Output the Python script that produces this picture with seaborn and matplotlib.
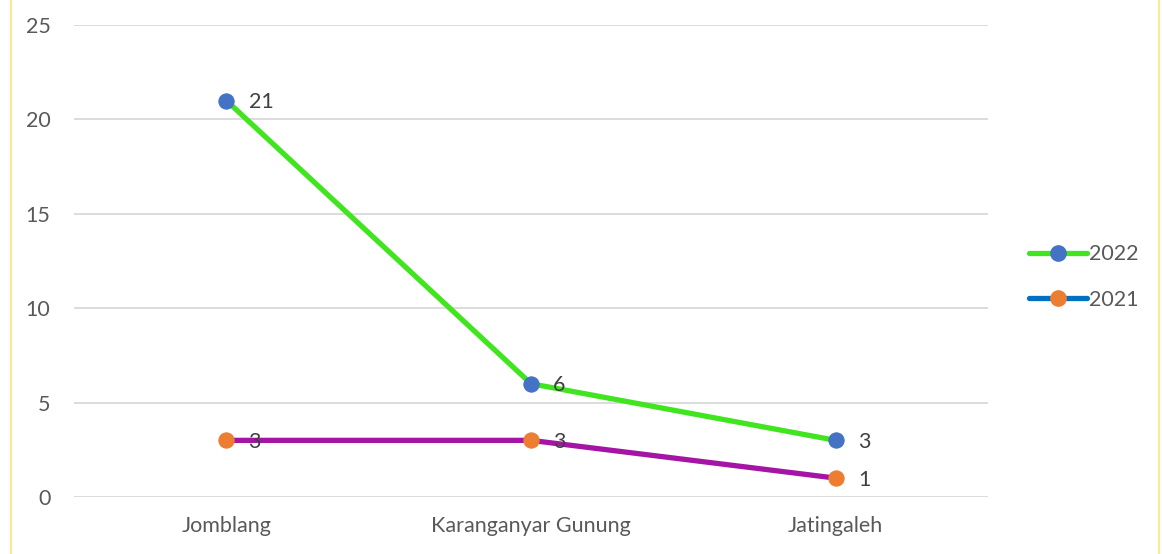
import pandas as pd
import numpy as np
import matplotlib
matplotlib.use("Agg")
import matplotlib.pyplot as plt
import seaborn as sns
from matplotlib.lines import Line2D

# data
villages = ["Jomblang", "Karanganyar Gunung", "Jatingaleh"]
cases_2022 = [21, 6, 3]
cases_2021 = [3, 3, 1]
y_ticks = [0, 5, 10, 15, 20, 25]

df = pd.DataFrame({
    "village": villages * 2,
    "cases": cases_2022 + cases_2021,
    "year": ["2022"] * 3 + ["2021"] * 3,
})

sns.set_style("white")
plt.rcParams['font.family'] = ['Lato', 'DejaVu Sans']

fig = plt.figure(figsize=(11.62, 5.54), dpi=100)
ax = fig.add_axes([0.0637, 0.1029, 0.7866, 0.852])

line_col = {"2022": "#41E51F", "2021": "#A515A5"}
mark_col = {"2022": "#4472C4", "2021": "#ED7D31"}
legend_line = {"2022": "#41E51F", "2021": "#0070C0"}

for yr in ["2021", "2022"]:
    sub = df[df.year == yr]
    sns.lineplot(data=sub, x="village", y="cases", ax=ax, color=line_col[yr],
                 linewidth=3.8, marker="o", markersize=11,
                 markerfacecolor=mark_col[yr], markeredgecolor=mark_col[yr],
                 sort=False, zorder=3)
    for i, v in enumerate(sub.cases):
        ax.annotate(str(v), (i, v), xytext=(16, -1), textcoords="offset points",
                    va="center", ha="left", fontsize=15.5, color="#404040", zorder=4)

ax.set_xlim(-0.5, 2.5)
ax.set_ylim(0, 25)
ax.set_yticks(y_ticks)
ax.yaxis.grid(True, color="#D9D9D9", linewidth=1.3)
ax.set_axisbelow(True)
for s in ax.spines.values():
    s.set_visible(False)
ax.tick_params(axis="both", length=0, labelsize=15.5, labelcolor="#595959")
ax.tick_params(axis="y", pad=17)
ax.tick_params(axis="x", pad=14)
ax.set_xlabel("")
ax.set_ylabel("")

handles = [Line2D([0], [0], color=legend_line[yr], linewidth=3.8, marker="o",
                  markersize=11, markerfacecolor=mark_col[yr],
                  markeredgecolor=mark_col[yr]) for yr in ["2022", "2021"]]
fig.legend(handles, ["2022", "2021"], loc="center left",
           bbox_to_anchor=(0.869, 0.5), frameon=False, fontsize=15.5,
           labelcolor="#595959", handlelength=2.7, handletextpad=0.08,
           labelspacing=1.2)

# thin yellow frame edges seen in the picture
fig.add_artist(Line2D([0.0095, 0.0095], [0, 1], color="#FFE699", linewidth=1.6,
                      transform=fig.transFigure))
fig.add_artist(Line2D([0.997, 0.997], [0, 1], color="#FFE699", linewidth=1.6,
                      transform=fig.transFigure))

fig.savefig("out.png", dpi=100)
